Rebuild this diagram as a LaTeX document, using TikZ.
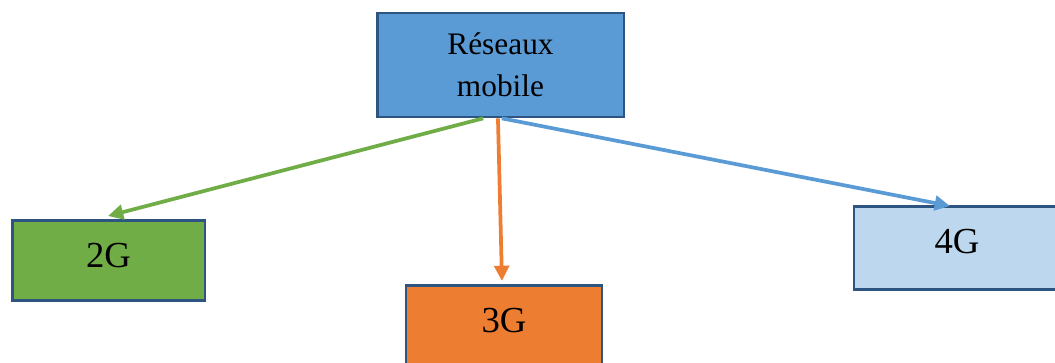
\documentclass[tikz,border=0pt]{standalone}
\usepackage{fontspec}
\setmainfont{Liberation Serif}
\usetikzlibrary{arrows.meta}

\definecolor{edgeblue}{HTML}{2E5482}
\definecolor{topfill}{HTML}{5B9BD5}
\definecolor{greenfill}{HTML}{70AD47}
\definecolor{orangefill}{HTML}{ED7D31}
\definecolor{lightfill}{HTML}{BDD7EE}

\tikzset{
  box/.style={draw=edgeblue, line width=2pt, inner xsep=0pt, inner ysep=0pt,
    font=\fontsize{27.5}{33}\selectfont},
  link/.style={line width=2.8pt, -{Triangle[length=11.5pt,width=11pt]}},
}

\begin{document}
\begin{tikzpicture}[x=0.75pt,y=-0.75pt]
  \useasboundingbox (0,0) rectangle (1055,363);
  \clip (0,0) rectangle (1055,363);

  % root of the tree
  \node[box, fill=topfill, minimum width=185pt, minimum height=78pt, align=center,
        font=\fontsize{23.5}{31.5}\selectfont] (root) at (500.5,65)
        {Réseaux\\mobile};

  % the three generations
  \node[box, fill=greenfill, minimum width=144.5pt, text height=35pt, text depth=25pt,
        anchor=north] (g2) at (108.5,219) {2G};
  \node[box, fill=orangefill, minimum width=147pt, text height=35pt, text depth=25pt,
        anchor=north] (g3) at (504,284) {3G};
  \node[box, fill=lightfill, minimum width=154.5pt, text height=35pt, text depth=27.25pt,
        anchor=north] (g4) at (957,205) {4G};

  % connectors from the root down to each generation
  \draw[link, greenfill] ([xshift=-13pt]root.south) -- ([xshift=-0.4pt,yshift=2.25pt]g2.north);
  \draw[link, orangefill] ([xshift=-1.9pt]root.south) -- ([xshift=-1.5pt,yshift=2.25pt]g3.north);
  \draw[link, topfill] ([xshift=1pt]root.south) -- ([xshift=-5.25pt,yshift=-0.75pt]g4.north);
\end{tikzpicture}
\end{document}
